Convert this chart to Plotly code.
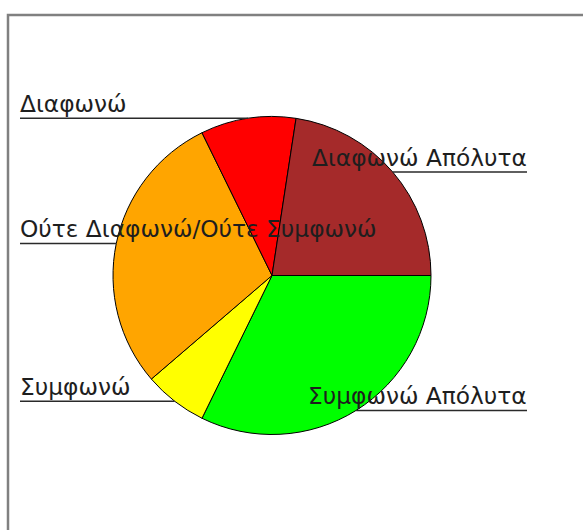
import numpy as np
import plotly.graph_objects as go

# Survey answers, listed clockwise starting at 3 o'clock
labels = ["Συμφωνώ Απόλυτα", "Συμφωνώ", "Ούτε Διαφωνώ/Ούτε Συμφωνώ", "Διαφωνώ", "Διαφωνώ Απόλυτα"]
counts = [10, 2, 9, 3, 7]
colors = ["#00FF00", "#FFFF00", "#FFA500", "#FF0000", "#A52A2A"]

W, H = 583, 530
CX, CY, R = 272, 275.5, 159      # pie centre and radius in pixels
LEFT_X, RIGHT_X = 20, 527        # leader line outer ends in pixels
PAD = 2                          # annotation box padding


def px(x):
    return x / W


def py(y):
    return 1 - y / H


fig = go.Figure(go.Pie(
    labels=labels,
    values=counts,
    sort=False,
    direction="clockwise",
    rotation=90,
    marker=dict(colors=colors, line=dict(color="#000000", width=1)),
    textinfo="none",
    showlegend=False,
    domain=dict(x=[px(CX - R), px(CX + R)], y=[py(CY + R), py(CY - R)]),
))

# Leader lines run horizontally from each slice's mid-arc point to its label
vals = np.array(counts, dtype=float)
ends = -np.cumsum(vals) / vals.sum() * 2 * np.pi
mids = ends + vals / vals.sum() * np.pi

shapes = []
annotations = []
for lab, a in zip(labels, mids):
    mx = CX + R * np.cos(a)
    my = CY - R * np.sin(a)
    if np.cos(a) < 0:
        x0, x1, tx, anchor = LEFT_X, mx, LEFT_X - PAD, "left"
    else:
        x0, x1, tx, anchor = mx, RIGHT_X, RIGHT_X + PAD, "right"
    shapes.append(dict(type="line", xref="paper", yref="paper",
                       x0=px(x0), x1=px(x1), y0=py(my), y1=py(my),
                       line=dict(color="#2a2a2a", width=1.5), layer="above"))
    annotations.append(dict(text=lab, xref="paper", yref="paper",
                            x=px(tx), y=py(my + 1), xanchor=anchor, yanchor="bottom",
                            showarrow=False,
                            font=dict(family="DejaVu Sans", size=23.3, color="#1e1e1e")))

# Grey frame around the chart area
shapes.append(dict(type="rect", xref="paper", yref="paper",
                   x0=px(8), x1=px(W + 10), y0=py(H + 10), y1=py(15),
                   line=dict(color="#808080", width=2.5), layer="below"))

fig.update_layout(
    width=W, height=H,
    margin=dict(l=0, r=0, t=0, b=0),
    paper_bgcolor="white",
    plot_bgcolor="white",
    shapes=shapes,
    annotations=annotations,
)

fig.write_html("out.html")
